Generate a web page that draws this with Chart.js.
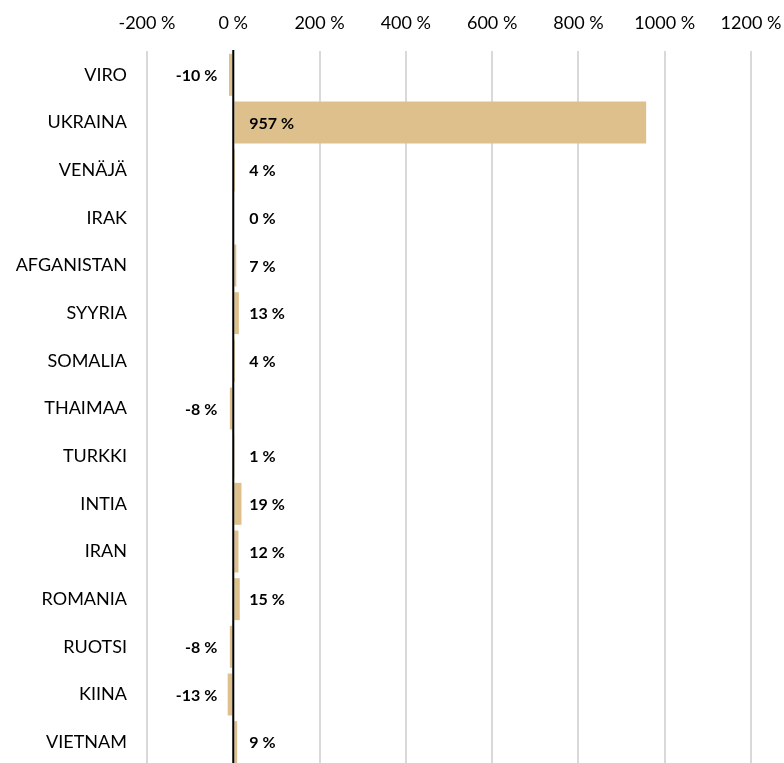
<!DOCTYPE html>
<html>
<head>
<meta charset="utf-8">
<script src="https://cdn.jsdelivr.net/npm/chart.js@4"></script>
<style>
  html, body { margin: 0; padding: 0; background: #fff; overflow: hidden; }
  #wrap { position: relative; width: 784px; height: 766px; }
</style>
</head>
<body>
<div id="wrap"><canvas id="chart"></canvas></div>
<script>
const countries = ["VIRO", "UKRAINA", "VENÄJÄ", "IRAK", "AFGANISTAN", "SYYRIA", "SOMALIA",
  "THAIMAA", "TURKKI", "INTIA", "IRAN", "ROMANIA", "RUOTSI", "KIINA", "VIETNAM"];
const changePct = [-10, 957, 4, 0, 7, 13, 4, -8, 1, 19, 12, 15, -8, -13, 9];
const axisMin = -200;
const axisMax = 1200;
const axisStep = 200;

const FONT = "Lato, 'Noto Sans', sans-serif";

// value labels next to the zero line, plus the black zero line on top of bars
const labelsPlugin = {
  id: "valueLabels",
  afterDatasetsDraw(chart) {
    const ctx = chart.ctx;
    const x = chart.scales.x;
    const area = chart.chartArea;
    const zero = x.getPixelForValue(0);
    const meta = chart.getDatasetMeta(0);

    ctx.save();
    ctx.font = "bold 16px " + FONT;
    ctx.fillStyle = "#000";
    ctx.textBaseline = "middle";
    meta.data.forEach((bar, i) => {
      const v = changePct[i];
      const txt = v + " %";
      if (v < 0) {
        ctx.textAlign = "right";
        ctx.fillText(txt, zero - 16, bar.y + 1);
      } else {
        ctx.textAlign = "left";
        ctx.fillText(txt, zero + 16, bar.y + 1);
      }
    });

    ctx.strokeStyle = "#000";
    ctx.lineWidth = 2;
    ctx.beginPath();
    ctx.moveTo(zero, area.top - 1);
    ctx.lineTo(zero, area.bottom);
    ctx.stroke();
    ctx.restore();
  },
};

new Chart(document.getElementById("chart"), {
  type: "bar",
  data: {
    labels: countries,
    datasets: [
      {
        data: changePct,
        backgroundColor: "#dec08c",
        borderWidth: 0,
        barPercentage: 0.88,
        categoryPercentage: 1,
      },
    ],
  },
  options: {
    indexAxis: "y",
    responsive: true,
    maintainAspectRatio: false,
    animation: false,
    layout: { padding: { top: 0, right: 33, left: 0, bottom: 0 } },
    plugins: {
      legend: { display: false },
      tooltip: { enabled: false },
    },
    scales: {
      x: {
        position: "top",
        min: axisMin,
        max: axisMax,
        ticks: {
          stepSize: axisStep,
          padding: 17,
          maxRotation: 0,
          color: "#000",
          font: { family: FONT, size: 18 },
          callback: (v) => v + " %",
        },
        grid: {
          color: "#d9d9d9",
          lineWidth: 2,
          drawTicks: false,
        },
        border: { display: false },
        afterFit(scale) {
          scale.height = 51;
          scale.paddingLeft = 0;
          scale.paddingRight = 0;
        },
      },
      y: {
        ticks: {
          padding: 20,
          color: "#000",
          font: { family: FONT, size: 18 },
        },
        grid: { display: false, drawTicks: false },
        border: { display: false },
        afterFit(scale) {
          scale.width = 147;
          scale.paddingTop = 0;
          scale.paddingBottom = 0;
        },
      },
    },
  },
  plugins: [labelsPlugin],
});
</script>
</body>
</html>
